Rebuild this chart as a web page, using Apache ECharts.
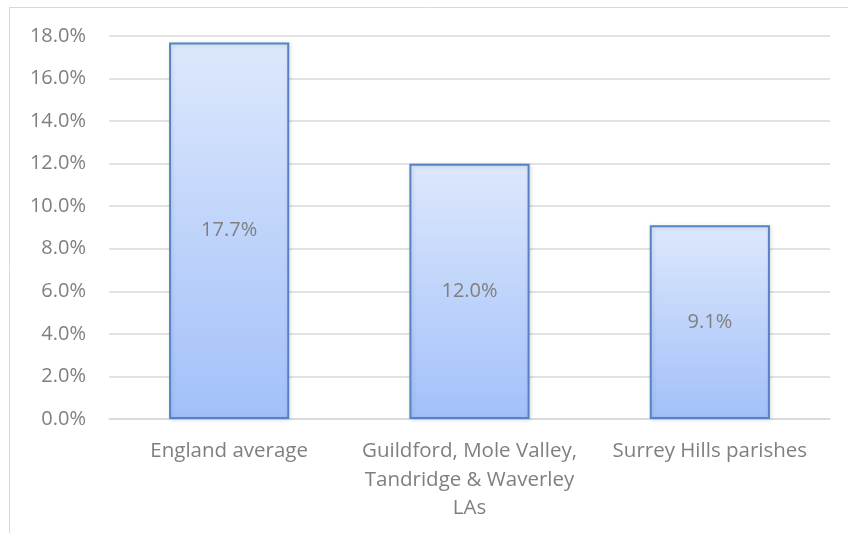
<!DOCTYPE html>
<html>
<head>
<meta charset="utf-8">
<script src="https://cdn.jsdelivr.net/npm/echarts@6/dist/echarts.min.js"></script>
<style>
  html, body { margin: 0; padding: 0; background: #fff; }
  #chart { width: 848px; height: 533px; }
</style>
</head>
<body>
<div id="chart"></div>
<script>
// Share of population by area
const categories = [
  'England average',
  'Guildford, Mole Valley,\nTandridge & Waverley\nLAs',
  'Surrey Hills parishes'
];
const values = [17.7, 12.0, 9.1];
const yTicks = { min: 0, max: 18, interval: 2 };

const textColor = '#7f7f7f';
const fontFamily = '"Open Sans", "Noto Sans", sans-serif';

const chart = echarts.init(document.getElementById('chart'), null, { renderer: 'canvas' });

chart.setOption({
  animation: false,
  backgroundColor: '#ffffff',
  graphic: [{
    type: 'rect',
    shape: { x: 9.5, y: 7.5, width: 860, height: 560 },
    style: { fill: 'none', stroke: '#d9d9d9', lineWidth: 1 },
    silent: true,
    z: -1
  }],
  grid: { left: 109, right: 18, top: 36, bottom: 114 },
  xAxis: {
    type: 'category',
    data: categories,
    axisTick: { show: false },
    axisLine: { show: true, lineStyle: { color: '#d9d9d9', width: 1.5 } },
    axisLabel: {
      color: textColor,
      fontFamily: fontFamily,
      fontSize: 20.5,
      lineHeight: 28.5,
      margin: 18,
      interval: 0
    }
  },
  yAxis: {
    type: 'value',
    min: yTicks.min,
    max: yTicks.max,
    interval: yTicks.interval,
    axisLine: { show: false },
    axisTick: { show: false },
    splitLine: { lineStyle: { color: '#d9d9d9', width: 1.5 } },
    axisLabel: {
      color: textColor,
      fontFamily: fontFamily,
      fontSize: 20,
      margin: 23,
      formatter: v => v.toFixed(1) + '%'
    }
  },
  series: [{
    type: 'bar',
    data: values,
    barWidth: '50%',
    itemStyle: {
      color: new echarts.graphic.LinearGradient(0, 0, 0, 1, [
        { offset: 0, color: '#dde8fc' },
        { offset: 1, color: '#a2c0f9' }
      ]),
      borderColor: '#5583c3',
      borderWidth: 2,
      shadowColor: 'rgba(0,0,0,0.12)',
      shadowBlur: 4,
      shadowOffsetX: 1,
      shadowOffsetY: 1
    },
    label: {
      show: true,
      position: 'inside',
      color: textColor,
      fontFamily: fontFamily,
      fontSize: 20,
      formatter: p => p.value.toFixed(1) + '%'
    }
  }]
});
</script>
</body>
</html>
